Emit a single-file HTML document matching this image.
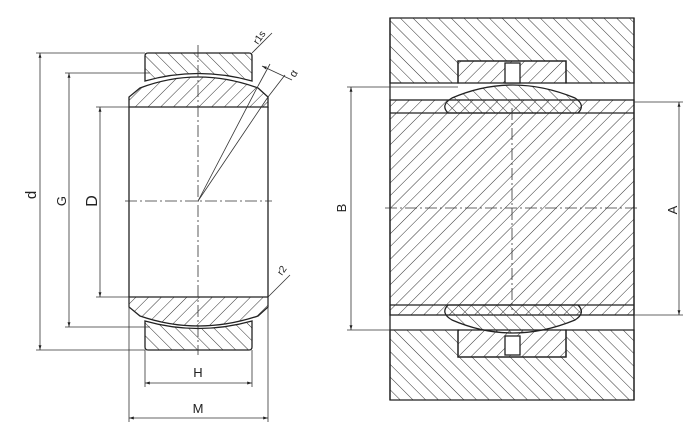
<!DOCTYPE html>
<html><head><style>html,body{margin:0;padding:0;background:#fff}svg{display:block}</style></head>
<body>
<svg width="700" height="441" viewBox="0 0 700 441" xmlns="http://www.w3.org/2000/svg" font-family="Liberation Sans, sans-serif">
<defs>
<pattern id="hf" width="9" height="9" patternUnits="userSpaceOnUse" patternTransform="rotate(45)"><line x1="0" y1="0" x2="0" y2="9" stroke="#333" stroke-width="1"/></pattern>
<pattern id="hb" width="9" height="9" patternUnits="userSpaceOnUse" patternTransform="rotate(-45)"><line x1="0" y1="0" x2="0" y2="9" stroke="#333" stroke-width="1"/></pattern>
<marker id="ar" viewBox="0 0 10 10" refX="10" refY="5" markerWidth="6" markerHeight="6" orient="auto-start-reverse"><path d="M0,2L10,5L0,8z" fill="#222"/></marker>
</defs>
<g stroke="#222" stroke-width="1.3" fill="none">
<path d="M145,56 Q145,53 148,53 L249,53 Q252,53 252,56 L252,81 Q198,66 145,81 Z" fill="url(#hb)"/>
<path d="M129,107 L129,97 L140,88 Q198,66 258,88 L268,97 L268,107 Z" fill="url(#hf)"/>
<path d="M145,347 Q145,350 148,350 L249,350 Q252,350 252,347 L252,321 Q198,336 145,321 Z" fill="url(#hb)"/>
<path d="M129,297 L129,307 L140,316 Q198,336 258,316 L268,307 L268,297 Z" fill="url(#hf)"/>
<line x1="129" y1="107" x2="129" y2="297"/>
<line x1="268" y1="107" x2="268" y2="297"/>
</g>
<g stroke="#333" stroke-width="0.8" fill="none">
<line x1="198" y1="45" x2="198" y2="355" stroke-dasharray="12,3,2,3"/>
<line x1="125" y1="201" x2="272" y2="201" stroke-dasharray="12,3,2,3"/>
<line x1="198" y1="201" x2="268" y2="97"/>
<line x1="198" y1="201" x2="258" y2="86"/>
<line x1="258" y1="86" x2="270" y2="64"/>
<line x1="268" y1="97" x2="285" y2="75"/>
<line x1="262" y1="66" x2="292" y2="80" marker-start="url(#ar)"/>
<line x1="252" y1="53" x2="272" y2="33"/>
<line x1="268" y1="297" x2="290" y2="275"/>
<line x1="36" y1="53" x2="145" y2="53"/><line x1="36" y1="350" x2="145" y2="350"/>
<line x1="40" y1="53" x2="40" y2="350" marker-start="url(#ar)" marker-end="url(#ar)"/>
<line x1="65" y1="73" x2="150" y2="73"/><line x1="65" y1="327" x2="150" y2="327"/>
<line x1="69" y1="73" x2="69" y2="327" marker-start="url(#ar)" marker-end="url(#ar)"/>
<line x1="96" y1="107" x2="129" y2="107"/><line x1="96" y1="297" x2="129" y2="297"/>
<line x1="100" y1="107" x2="100" y2="297" marker-start="url(#ar)" marker-end="url(#ar)"/>
<line x1="145" y1="350" x2="145" y2="387"/><line x1="252" y1="350" x2="252" y2="387"/>
<line x1="145" y1="383" x2="252" y2="383" marker-start="url(#ar)" marker-end="url(#ar)"/>
<line x1="129" y1="297" x2="129" y2="422"/><line x1="268" y1="297" x2="268" y2="422"/>
<line x1="129" y1="418" x2="268" y2="418" marker-start="url(#ar)" marker-end="url(#ar)"/>
</g>
<g fill="#222" font-size="15">
<text x="36" y="195" transform="rotate(-90 36 195)" text-anchor="middle">d</text>
<text x="66" y="201" transform="rotate(-90 66 201)" text-anchor="middle" font-size="13">G</text>
<text x="97" y="201" transform="rotate(-90 97 201)" text-anchor="middle" font-size="16">D</text>
<text x="198" y="377" text-anchor="middle" font-size="13">H</text>
<text x="198" y="413" text-anchor="middle" font-size="13">M</text>
<text x="258" y="45" font-size="10" transform="rotate(-55 258 45)">r1s</text>
<text x="295" y="78" font-size="11" transform="rotate(-60 295 78)">α</text>
<text x="282" y="276" font-size="10" transform="rotate(-55 282 276)">r2</text>
<text x="346" y="208" transform="rotate(-90 346 208)" text-anchor="middle" font-size="13">B</text>
<text x="677" y="210" transform="rotate(-90 677 210)" text-anchor="middle" font-size="13">A</text>
</g>
<g stroke="#222" stroke-width="1.3">
<path d="M390,18 H634 V83 H566 V61 H458 V83 H390 Z" fill="url(#hb)"/>
<path d="M390,400 H634 V330 H566 V357 H458 V330 H390 Z" fill="url(#hb)"/>
<rect x="458" y="61" width="108" height="22" fill="url(#hf)"/>
<rect x="458" y="330" width="108" height="27" fill="url(#hf)"/>
<rect x="505" y="63" width="15" height="20" fill="#fff"/>
<rect x="505" y="336" width="15" height="19" fill="#fff"/>
<rect x="390" y="100" width="244" height="215" fill="url(#hf)"/>
<line x1="390" y1="113" x2="634" y2="113"/><line x1="390" y1="305" x2="634" y2="305"/>
<path d="M448,113 Q440,105 452,98 Q512,72 575,98 Q586,105 578,113 Z" fill="url(#hb)"/>
<path d="M448,305 Q440,313 452,320 Q512,346 575,320 Q586,313 578,305 Z" fill="url(#hb)"/>
<line x1="390" y1="18" x2="390" y2="400"/>
<line x1="634" y1="18" x2="634" y2="400"/>
</g>
<g stroke="#333" stroke-width="0.8" fill="none">
<line x1="385" y1="208" x2="640" y2="208" stroke-dasharray="12,3,2,3"/>
<line x1="512" y1="108" x2="512" y2="310" stroke-dasharray="12,3,2,3"/>
<line x1="347" y1="87" x2="458" y2="87"/><line x1="347" y1="330" x2="458" y2="330"/>
<line x1="351" y1="87" x2="351" y2="330" marker-start="url(#ar)" marker-end="url(#ar)"/>
<line x1="634" y1="102" x2="683" y2="102"/><line x1="634" y1="315" x2="683" y2="315"/>
<line x1="679" y1="102" x2="679" y2="315" marker-start="url(#ar)" marker-end="url(#ar)"/>
</g>
</svg>
</body></html>
